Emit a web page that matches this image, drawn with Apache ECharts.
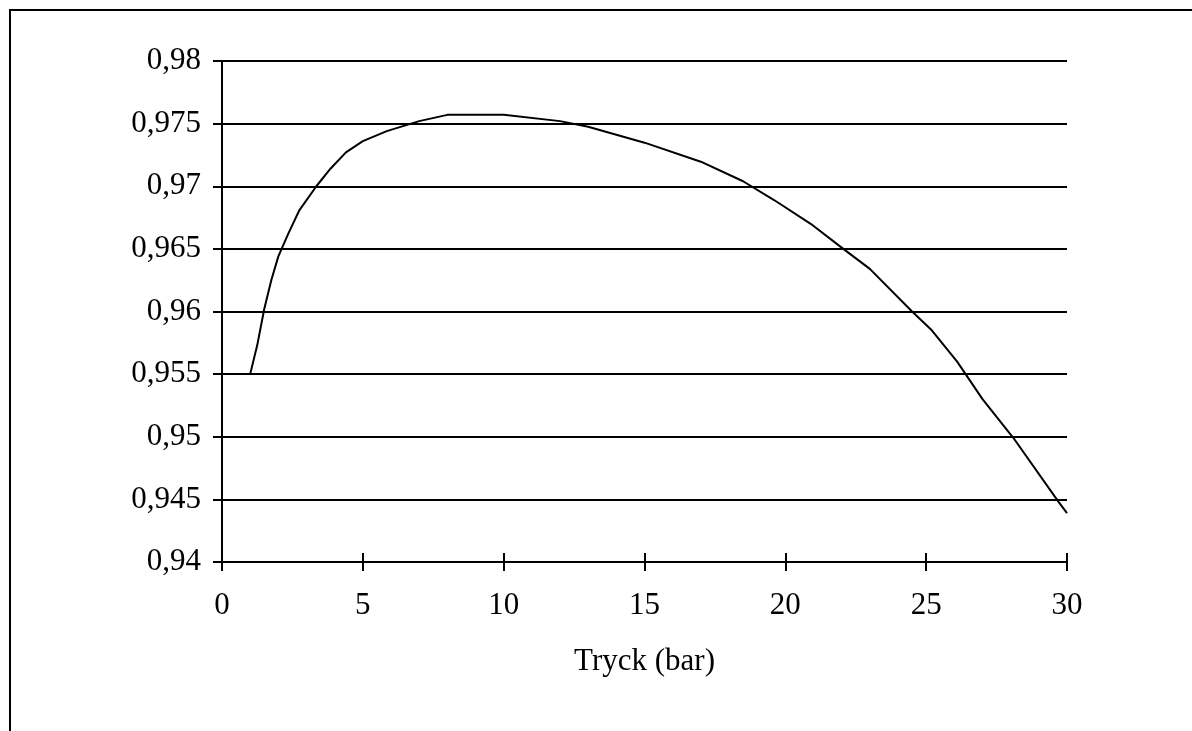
<!DOCTYPE html>
<html>
<head>
<meta charset="utf-8">
<script src="https://cdn.jsdelivr.net/npm/echarts@6/dist/echarts.min.js"></script>
<style>
html,body{margin:0;padding:0;background:#fff;}
#c{width:1192px;height:731px;}
</style>
</head>
<body>
<div id="c"></div>
<script>
var pressure = [1, 1.25, 1.5, 1.75, 2, 2.35, 2.75, 3.35, 3.85, 4.4, 5, 5.85, 7, 8, 10, 12, 13, 15, 17, 18.5, 19.6, 20.9, 22, 23, 24.5, 25.2, 26.1, 27, 28.1, 29.7, 30];
var values = [0.955, 0.9573, 0.9602, 0.9625, 0.9644, 0.9662, 0.9681, 0.9700, 0.9714, 0.9727, 0.9736, 0.9744, 0.9752, 0.9757, 0.9757, 0.9752, 0.97475, 0.97348, 0.97196, 0.9704, 0.9689, 0.9670, 0.9651, 0.9634, 0.9600, 0.9585, 0.9560, 0.9530, 0.9499, 0.9448, 0.9439];
var xAxisName = 'Tryck (bar)';

var data = pressure.map(function (p, i) { return [p, values[i]]; });
var FONT = 'Liberation Serif';
var chart = echarts.init(document.getElementById('c'), null, {renderer: 'canvas'});
chart.setOption({
  animation: false,
  backgroundColor: '#fff',
  graphic: [{
    type: 'rect',
    shape: {x: 10, y: 10, width: 3000, height: 3000},
    style: {fill: 'none', stroke: '#000', lineWidth: 2},
    silent: true,
    z: 100
  }],
  grid: {left: 222, top: 61, right: 125, bottom: 169, containLabel: false},
  xAxis: [{
    type: 'value', min: 0, max: 30, interval: 5, position: 'bottom',
    name: xAxisName, nameLocation: 'middle', nameGap: 84,
    nameTextStyle: {fontFamily: FONT, fontSize: 31, color: '#000'},
    axisLine: {show: true, onZero: false, lineStyle: {color: '#000', width: 2}},
    axisTick: {show: true, length: 9, inside: false, lineStyle: {color: '#000', width: 2}},
    axisLabel: {fontFamily: FONT, fontSize: 31, color: '#000', margin: 28},
    splitLine: {show: false}
  }, {
    type: 'value', min: 0, max: 30, interval: 5, position: 'bottom',
    axisLine: {show: false, onZero: false},
    axisTick: {show: true, length: 9, inside: true, lineStyle: {color: '#000', width: 2}},
    axisLabel: {show: false},
    splitLine: {show: false}
  }],
  yAxis: {
    type: 'value', min: 0.94, max: 0.98, interval: 0.005,
    axisLine: {show: true, onZero: false, lineStyle: {color: '#000', width: 2}},
    axisTick: {show: true, length: 9, lineStyle: {color: '#000', width: 2}},
    axisLabel: {
      fontFamily: FONT, fontSize: 31, color: '#000', margin: 21,
      formatter: function (v) { return String(Number(v.toFixed(3))).replace('.', ','); }
    },
    splitLine: {show: true, lineStyle: {color: '#000', width: 2}}
  },
  series: [{
    type: 'line',
    data: data,
    xAxisIndex: 0,
    showSymbol: false,
    symbol: 'none',
    smooth: false,
    lineStyle: {color: '#000', width: 2},
    z: 5
  }]
});
</script>
</body>
</html>
